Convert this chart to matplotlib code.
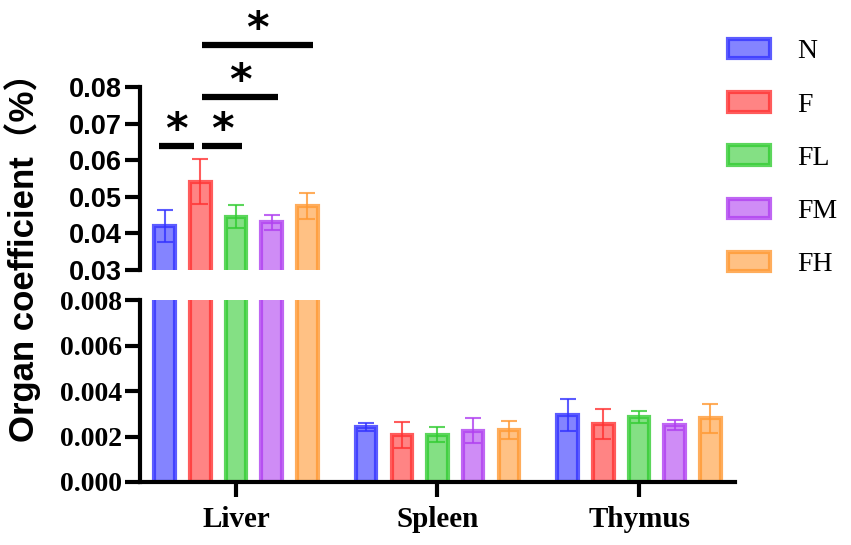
import matplotlib
matplotlib.use('Agg')
import matplotlib.pyplot as plt
from matplotlib.patches import Patch
from matplotlib.colors import to_rgba
import numpy as np

organs = ['Liver', 'Spleen', 'Thymus']
groups = ['N', 'F', 'FL', 'FM', 'FH']
colors = ['#3333FF', '#FF3333', '#33CC33', '#B040F0', '#FF9933']

# mean and SD per organ, one value per group
liver_mean = [0.0420, 0.0541, 0.0446, 0.0430, 0.0475]
liver_sd = [0.0044, 0.0062, 0.0031, 0.0021, 0.0035]
spleen_mean = [0.00241, 0.00207, 0.00208, 0.00226, 0.00229]
spleen_sd = [0.00018, 0.00057, 0.00032, 0.00055, 0.00040]
thymus_mean = [0.00296, 0.00254, 0.00287, 0.00250, 0.00280]
thymus_sd = [0.00071, 0.00065, 0.00026, 0.00022, 0.00064]

# significance on Liver: (group a, group b, height of bar line)
sig_pairs = [(0, 1, 0.0640), (1, 2, 0.0640), (1, 3, 0.0772), (1, 4, 0.0915)]

means = np.array([liver_mean, spleen_mean, thymus_mean])
sds = np.array([liver_sd, spleen_sd, thymus_sd])

serif = ['Liberation Serif', 'DejaVu Serif']
sans = ['Liberation Sans', 'DejaVu Sans']

fig = plt.figure(figsize=(8.51, 5.45), dpi=100)
ax_top = fig.add_axes([0.1645, 0.5046, 0.6992, 0.3358])
ax_bot = fig.add_axes([0.1645, 0.1156, 0.6992, 0.3339])

step = 0.177
width = 0.102
x = np.arange(len(organs))


def draw_bars(ax):
    for k, (g, c) in enumerate(zip(groups, colors)):
        pos = x + (k - 2) * step
        ax.bar(pos, means[:, k], width=width,
               facecolor=to_rgba(c, 0.6), edgecolor=to_rgba(c, 0.8),
               linewidth=3, zorder=2)
        ax.errorbar(pos, means[:, k], yerr=sds[:, k], fmt='none',
                    ecolor=to_rgba(c, 0.8), elinewidth=1.5,
                    capsize=6, capthick=1.5, zorder=3)
    ax.set_xlim(-0.476, 2.476)


draw_bars(ax_top)
draw_bars(ax_bot)

# upper part of broken axis
ax_top.set_ylim(0.03, 0.08)
ax_top.set_yticks(np.arange(0.03, 0.0801, 0.01))
ax_top.set_yticklabels(['%.2f' % v for v in np.arange(0.03, 0.0801, 0.01)],
                       family=sans, fontweight='bold', fontsize=19.5)
ax_top.set_xticks([])
for s in ['top', 'right', 'bottom']:
    ax_top.spines[s].set_visible(False)
ax_top.spines['left'].set_linewidth(3)
ax_top.tick_params(axis='y', width=3, length=11, pad=2)

# lower part
ax_bot.set_ylim(0, 0.008)
ax_bot.set_yticks(np.arange(0, 0.00801, 0.002))
ax_bot.set_yticklabels(['%.3f' % v for v in np.arange(0, 0.00801, 0.002)],
                       family=serif, fontweight='bold', fontsize=20)
ax_bot.set_xticks(x)
ax_bot.set_xticklabels(organs, family=serif, fontweight='bold', fontsize=21)
for s in ['top', 'right']:
    ax_bot.spines[s].set_visible(False)
ax_bot.spines['left'].set_linewidth(3)
ax_bot.spines['bottom'].set_linewidth(3)
ax_bot.tick_params(width=3, length=11, pad=2)
ax_bot.tick_params(axis='x', pad=6)

# significance lines and stars
for a, b, h in sig_pairs:
    xa = (a - 2) * step
    xb = (b - 2) * step
    if b == 1:
        xb -= 0.03
        xa -= 0.03
    else:
        xa += 0.01
        xb += 0.03
    ax_top.plot([xa, xb], [h, h], color='black', lw=4.5,
                solid_capstyle='butt', clip_on=False)
    ax_top.annotate('*', xy=((xa + xb) / 2, h), xytext=(0, 2),
                    textcoords='offset points', ha='center', va='baseline',
                    fontsize=31, fontweight='bold', annotation_clip=False)

fig.text(0.026, 0.544, 'Organ coefficient（%）', rotation=90,
         ha='center', va='center', fontsize=25, fontweight='bold',
         family=['Liberation Sans', 'Noto Sans CJK SC', 'DejaVu Sans'])

handles = [Patch(facecolor=to_rgba(c, 0.6), edgecolor=to_rgba(c, 0.8),
                 linewidth=3) for c in colors]
fig.legend(handles, groups, loc='upper left',
           bbox_to_anchor=(728 / 851, 1 - 39 / 545),
           frameon=False, prop={'family': serif, 'size': 20},
           handlelength=1.5, handleheight=0.7, labelspacing=1.0,
           handletextpad=1.0, borderpad=0, borderaxespad=0)

fig.savefig('out.png', dpi=100)
